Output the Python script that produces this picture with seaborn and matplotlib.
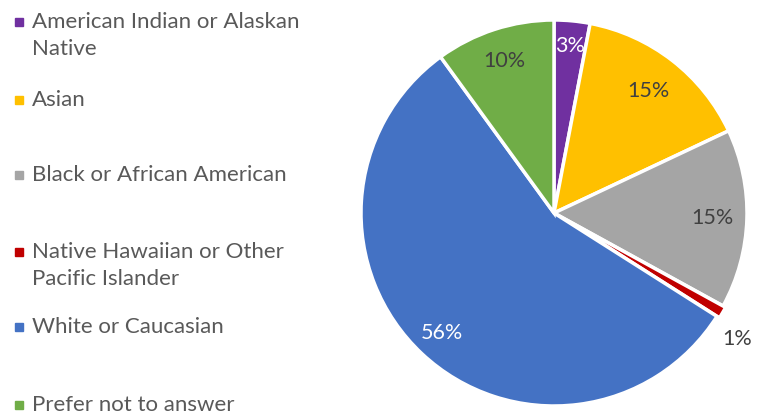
import numpy as np
import matplotlib
matplotlib.use("Agg")
import matplotlib.pyplot as plt
import seaborn as sns
from matplotlib.patches import Rectangle

categories = ["American Indian or Alaskan\nNative", "Asian", "Black or African American",
              "Native Hawaiian or Other\nPacific Islander", "White or Caucasian", "Prefer not to answer"]
values = [3, 15, 15, 1, 56, 10]
colors = ["#7030A0", "#FFC000", "#A5A5A5", "#C00000", "#4472C4", "#70AD47"]
label_colors = ["white", "#404040", "#404040", "#404040", "white", "#404040"]

sns.set_theme(style="white")
plt.rcParams['font.family'] = ['Lato', 'DejaVu Sans']

W, H = 765, 416
fig = plt.figure(figsize=(W / 100, H / 100), dpi=100)
cx, cy, r = 554, 213, 193
ax = fig.add_axes([(cx - r) / W, (H - cy - r) / H, 2 * r / W, 2 * r / H])
wedges, _ = ax.pie(values, colors=colors, startangle=90, counterclock=False,
                   explode=[0, 0, 0, 0.015, 0, 0],
                   wedgeprops=dict(edgecolor="white", linewidth=2.5), radius=1)
ax.set_xlim(-1.0, 1.0)
ax.set_ylim(-1.0, 1.0)
ax.set_aspect("equal")
ax.axis("off")

dists = [0.87, 0.8, 0.82, 1.15, 0.85, 0.83]
ang_off = [0, 0, 0, -4, 0, 0]
for w, v, c, d, o in zip(wedges, values, label_colors, dists, ang_off):
    ang = np.deg2rad((w.theta1 + w.theta2) / 2 + o)
    ax.text(d * np.cos(ang), d * np.sin(ang), f"{v}%", ha="center", va="center",
            color=c, fontsize=15.5)

# legend
ys = [22, 100, 175, 252, 327, 405]
for y, lab, col in zip(ys, categories, colors):
    s = 8
    fig.patches.append(Rectangle(((15) / W, (H - y - s / 2) / H), s / W, s / H,
                                 transform=fig.transFigure, color=col, figure=fig))
    lines = lab.split("\n")
    for i, ln in enumerate(lines):
        fig.text(32 / W, (H - y - 27 * i) / H, ln, ha="left", va="center",
                 color="#595959", fontsize=16)

fig.savefig("out.png", dpi=100)
